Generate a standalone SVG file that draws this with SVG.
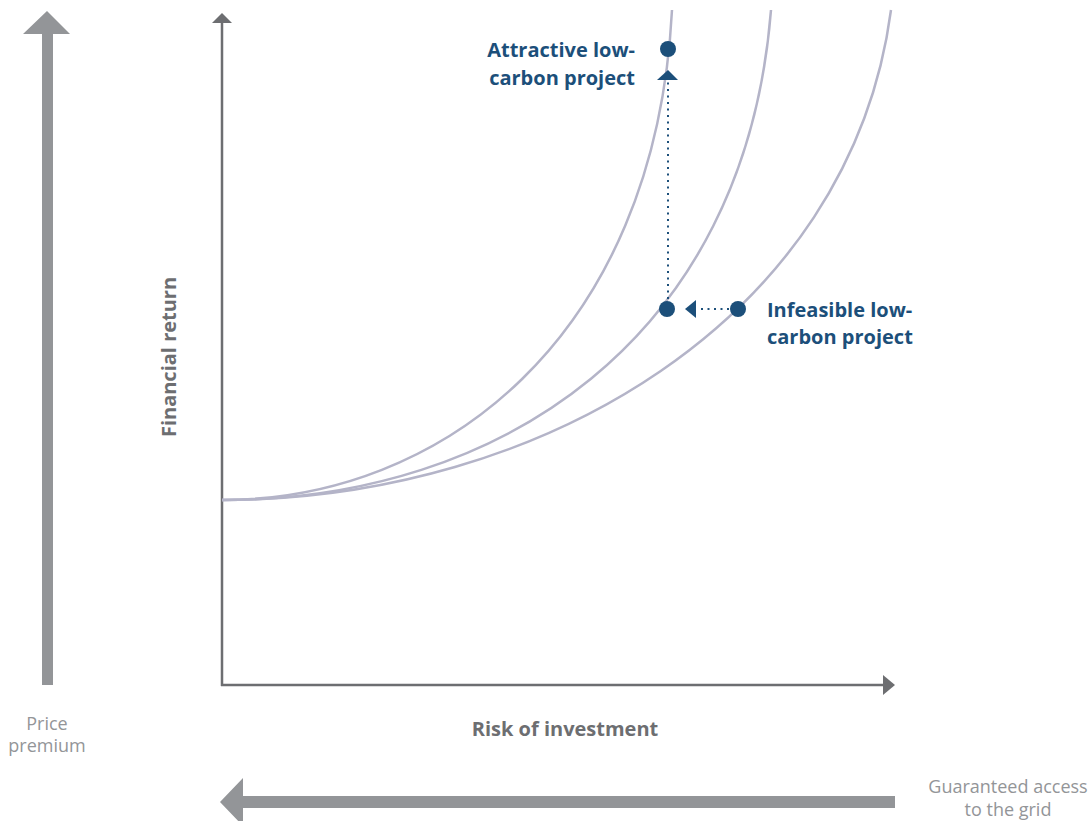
<svg xmlns="http://www.w3.org/2000/svg" width="1089" height="821" viewBox="0 0 1089 821">
<style>
.big{fill:#939598}
.axis{stroke:#6d6e71;stroke-width:2.5;fill:none}
.axhead{fill:#6d6e71}
.curve{stroke:#b4b4c8;stroke-width:2.5;fill:none}
.dot{fill:#1c4f7a}
.dotted{stroke:#1c4f7a;stroke-width:2;fill:none;stroke-dasharray:2 4.5}
.lbl{font-family:"Open Sans","Liberation Sans",sans-serif;font-weight:bold;font-size:20px;fill:#1c4f7a}
.axlbl{font-family:"Open Sans","Liberation Sans",sans-serif;font-weight:bold;font-size:20px;fill:#6d6e71}
.side{font-family:"Open Sans","Liberation Sans",sans-serif;font-size:18px;fill:#939598}
</style>
<rect width="1089" height="821" fill="#ffffff"/>
<g id="price-premium-arrow">
<polygon class="big" points="47,11 70,34 53,34 53,685 42,685 42,34 23,34"/>
<text class="side" text-anchor="middle" x="47" y="730">Price</text>
<text class="side" text-anchor="middle" x="47" y="752">premium</text>
</g>
<g id="grid-access-arrow">
<polygon class="big" points="220,802 243,778 243,796 895,796 895,808 243,808 243,826"/>
<text class="side" text-anchor="middle" x="1008" y="793">Guaranteed access</text>
<text class="side" text-anchor="middle" x="1008" y="816">to the grid</text>
</g>
<g id="axes">
<line class="axis" x1="222" y1="686" x2="222" y2="22"/>
<polygon class="axhead" points="222,13 212,23 232,23"/>
<line class="axis" x1="221" y1="685" x2="884" y2="685"/>
<polygon class="axhead" points="895,685 883,675 883,695"/>
<text class="axlbl" text-anchor="middle" transform="translate(176,357) rotate(-90)">Financial return</text>
<text class="axlbl" text-anchor="middle" x="565" y="736">Risk of investment</text>
</g>
<g id="curves">
<path class="curve" d="M222,500 C440,500 655,340 672,10"/>
<path class="curve" d="M222,500 C500,500 745,340 771,10"/>
<path class="curve" d="M222,500 C540,500 850,320 891,10"/>
</g>
<g id="connectors">
<line class="dotted" x1="668" y1="299" x2="668" y2="82"/>
<polygon class="dot" points="668,70 657,80 678,80"/>
<line class="dotted" x1="729" y1="309" x2="697" y2="309"/>
<polygon class="dot" points="685,309 696,300 696,318"/>
</g>
<g id="attractive-project">
<circle class="dot" cx="668" cy="49" r="8"/>
<text class="lbl" text-anchor="end" x="635" y="57">Attractive low-</text>
<text class="lbl" text-anchor="end" x="635" y="85">carbon project</text>
</g>
<g id="current-project">
<circle class="dot" cx="667" cy="309" r="8"/>
</g>
<g id="infeasible-project">
<circle class="dot" cx="738" cy="309" r="8"/>
<text class="lbl" x="767" y="317">Infeasible low-</text>
<text class="lbl" x="767" y="344">carbon project</text>
</g>
</svg>
